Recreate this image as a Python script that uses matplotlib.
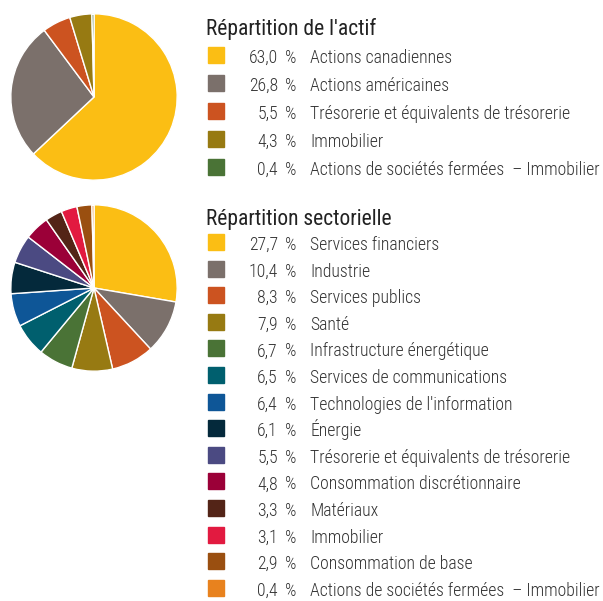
import matplotlib.pyplot as plt
from matplotlib.patches import Rectangle

plt.rcParams['font.family'] = ['Roboto Condensed', 'DejaVu Sans']

# Répartition de l'actif
actif_labels = ["Actions canadiennes", "Actions américaines",
                "Trésorerie et équivalents de trésorerie", "Immobilier",
                "Actions de sociétés fermées  – Immobilier"]
actif_values = [63.0, 26.8, 5.5, 4.3, 0.4]
actif_colors = ["#FBBE14", "#7B706B", "#CC5320", "#977A12", "#4A7336"]

# Répartition sectorielle
sect_labels = ["Services financiers", "Industrie", "Services publics", "Santé",
               "Infrastructure énergétique", "Services de communications",
               "Technologies de l'information", "Énergie",
               "Trésorerie et équivalents de trésorerie",
               "Consommation discrétionnaire", "Matériaux", "Immobilier",
               "Consommation de base",
               "Actions de sociétés fermées  – Immobilier"]
sect_values = [27.7, 10.4, 8.3, 7.9, 6.7, 6.5, 6.4, 6.1, 5.5, 4.8, 3.3, 3.1, 2.9, 0.4]
sect_colors = ["#FBBE14", "#7B706B", "#CC5320", "#977A12", "#4A7336", "#005F6E",
               "#0E5697", "#04293B", "#4B4A82", "#9B0038", "#532417", "#E21A40",
               "#9A4F10", "#E8821E"]

W, H = 603, 601
fig = plt.figure(figsize=(W / 100, H / 100), dpi=100)
txt = "#333333"


def pie_at(cx, cy, r, values, colors):
    ax = fig.add_axes([(cx - r) / W, 1 - (cy + r) / H, 2 * r / W, 2 * r / H])
    ax.pie(values, colors=colors, startangle=90, counterclock=False,
           wedgeprops=dict(edgecolor="white", linewidth=1))
    ax.set_xlim(-1.01, 1.01)
    ax.set_ylim(-1.01, 1.01)
    ax.set_aspect("equal")
    ax.axis("off")


def legend_at(title_base, first, step, title, labels, values, colors):
    # pixel positions measured from the top of the image
    fig.text(206 / W, 1 - title_base / H, title, fontsize=15.5, color="#222222",
             va="baseline", ha="left")
    for i, (lab, val, col) in enumerate(zip(labels, values, colors)):
        y = first + i * step
        fig.patches.append(Rectangle((208 / W, 1 - (y + 8) / H), 16 / W, 16 / H,
                                     transform=fig.transFigure, color=col))
        kw = dict(fontsize=12.8, color=txt, va="baseline", fontweight="light")
        yb = 1 - (y + 8) / H
        fig.text(278 / W, yb, f"{val:.1f}".replace(".", ","), ha="right", **kw)
        fig.text(285 / W, yb, "%", **kw)
        fig.text(310 / W, yb, lab, **kw)


pie_at(94, 97, 84, actif_values, actif_colors)
pie_at(94, 288, 84, sect_values, sect_colors)

legend_at(35, 55, 28, "Répartition de l'actif", actif_labels, actif_values, actif_colors)
legend_at(225, 242, 26.6, "Répartition sectorielle", sect_labels, sect_values, sect_colors)

fig.savefig("out.png", dpi=100)
